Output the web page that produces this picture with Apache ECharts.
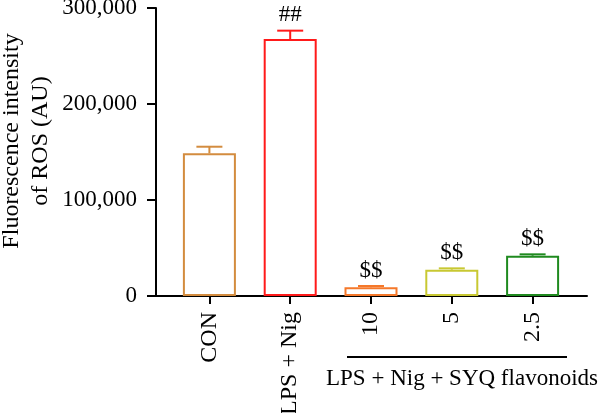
<!DOCTYPE html>
<html>
<head>
<meta charset="utf-8">
<script src="https://cdn.jsdelivr.net/npm/echarts@6/dist/echarts.min.js"></script>
<style>
  html, body { margin: 0; padding: 0; background: #fff; }
  #main { width: 600px; height: 413px; }
</style>
</head>
<body>
<div id="main"></div>
<script>
var chart = echarts.init(document.getElementById('main'));

// groups and values
var groups = ['CON', 'LPS + Nig', '10', '5', '2.5'];
var means = [148600, 267700, 9000, 27400, 42000];
var errUp = [155500, 276400, 10400, 28800, 43400];
var marks = ['', '##', '$$', '$$', '$$'];
var yTicks = [0, 100000, 200000, 300000];

var colors = ['#d38c3f', '#ff1a1a', '#f5782a', '#c8c832', '#1f8a1f'];
var font = '"Liberation Serif", "DejaVu Serif", serif';

var barData = means.map(function (v, i) {
    return {
        value: v,
        itemStyle: { color: '#fff', borderColor: colors[i], borderWidth: 2 }
    };
});

var errData = means.map(function (v, i) {
    return [i, v, errUp[i]];
});

chart.setOption({
    backgroundColor: '#fff',
    animation: false,
    grid: [
        { left: 169, right: 27, top: 8, bottom: 117, outerBoundsMode: 'none' },
        { left: 156, right: 13, top: 8, bottom: 117, outerBoundsMode: 'none' }
    ],
    xAxis: [{
        type: 'category',
        gridIndex: 0,
        data: groups,
        axisLine: { show: false },
        axisTick: { show: true, alignWithLabel: true, length: 8, lineStyle: { color: '#000', width: 2 } },
        axisLabel: {
            rotate: 90,
            margin: 16,
            color: '#000',
            fontFamily: font,
            fontSize: 24
        }
    }, {
        type: 'value',
        gridIndex: 1,
        min: 0,
        max: 1,
        axisLine: { show: true, lineStyle: { color: '#000', width: 2 } },
        axisTick: { show: false },
        axisLabel: { show: false },
        splitLine: { show: false }
    }],
    yAxis: [{
        type: 'value',
        gridIndex: 0,
        min: 0,
        max: yTicks[yTicks.length - 1],
        show: false
    }, {
        type: 'value',
        gridIndex: 1,
        min: yTicks[0],
        max: yTicks[yTicks.length - 1],
        interval: yTicks[1] - yTicks[0],
        name: 'Fluorescence intensity\nof ROS (AU)',
        nameLocation: 'middle',
        nameGap: 101,
        nameMoveOverlap: false,
        nameTextStyle: {
            color: '#000',
            fontFamily: font,
            fontSize: 24,
            lineHeight: 29,
            padding: [0, 0, 0, 22]
        },
        axisLine: { show: true, lineStyle: { color: '#000', width: 2 } },
        axisTick: { show: true, length: 9, lineStyle: { color: '#000', width: 2 } },
        axisLabel: {
            margin: 19,
            color: '#000',
            fontFamily: font,
            fontSize: 23,
            formatter: function (v) {
                return v.toLocaleString('en-US');
            }
        },
        splitLine: { show: false }
    }],
    series: [{
        type: 'bar',
        xAxisIndex: 0,
        yAxisIndex: 0,
        barWidth: 53,
        data: barData,
        z: 2
    }, {
        type: 'custom',
        xAxisIndex: 0,
        yAxisIndex: 0,
        data: errData,
        z: 3,
        renderItem: function (params, api) {
            var i = api.value(0);
            var base = api.coord([i, api.value(1)]);
            var top = api.coord([i, api.value(2)]);
            var c = colors[i];
            var half = 13;
            var children = [{
                type: 'line',
                shape: { x1: base[0], y1: base[1], x2: top[0], y2: top[1] },
                style: { stroke: c, lineWidth: 2 }
            }, {
                type: 'line',
                shape: { x1: top[0] - half, y1: top[1], x2: top[0] + half, y2: top[1] },
                style: { stroke: c, lineWidth: 2 }
            }];
            if (marks[i]) {
                children.push({
                    type: 'text',
                    style: {
                        x: top[0],
                        y: top[1] - 4,
                        text: marks[i],
                        align: 'center',
                        verticalAlign: 'bottom',
                        fill: '#000',
                        font: '23px ' + font
                    }
                });
            }
            return { type: 'group', children: children };
        }
    }],
    graphic: [{
        type: 'line',
        shape: { x1: 347, y1: 357, x2: 567, y2: 357 },
        style: { stroke: '#000', lineWidth: 2 }
    }, {
        type: 'text',
        x: 462,
        y: 379,
        style: {
            text: 'LPS + Nig + SYQ flavonoids',
            align: 'center',
            verticalAlign: 'middle',
            fill: '#000',
            font: '23px ' + font
        }
    }]
});
</script>
</body>
</html>
